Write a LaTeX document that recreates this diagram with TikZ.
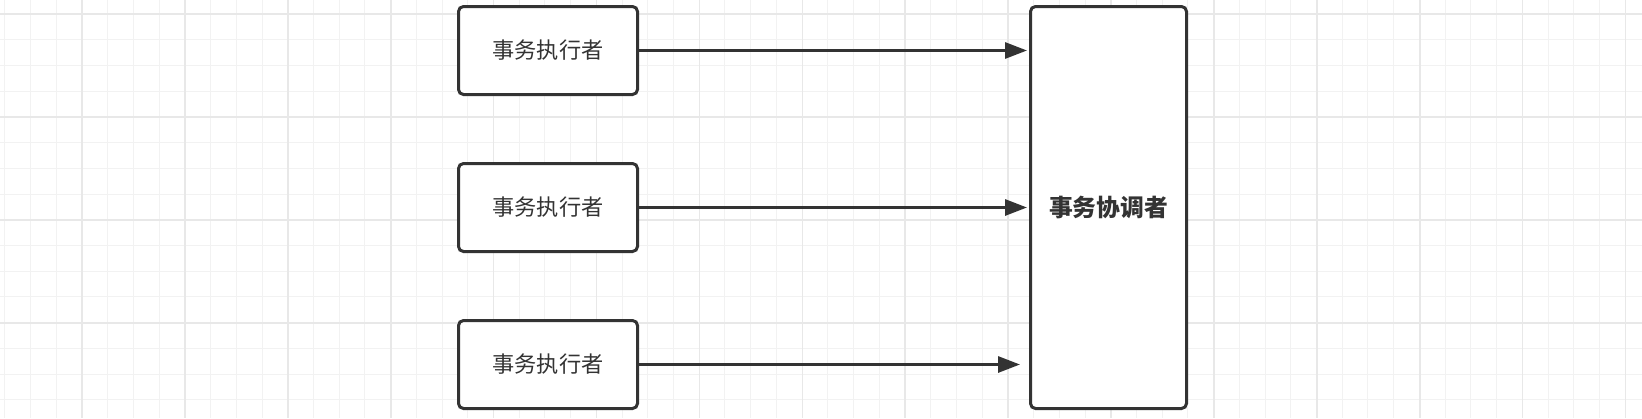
\documentclass[tikz,border=0pt]{standalone}
\usepackage{fontspec}
\setmainfont{Noto Sans CJK SC}
\usetikzlibrary{arrows.meta}
\definecolor{ink}{HTML}{333333}
\definecolor{gridminor}{HTML}{F2F2F2}
\definecolor{gridmajor}{HTML}{E8E8E8}
\begin{document}
\begin{tikzpicture}[x=1pt,y=-1pt,
  exec/.style={draw=ink, line width=3pt, rounded corners=5pt, fill=white, inner sep=0pt,
    text=ink, minimum width=179pt, minimum height=88pt, font=\fontsize{22.2}{26}\selectfont},
  coord/.style={draw=ink, line width=3pt, rounded corners=5pt, fill=white, inner sep=0pt,
    text=ink, minimum width=156pt, minimum height=402pt, font=\fontsize{23.8}{28}\selectfont\bfseries},
  arr/.style={draw=ink, line width=3pt, -{Triangle[length=22pt,width=16pt]}},
  minorline/.style={draw=gridminor, line width=1pt},
  majorline/.style={draw=gridmajor, line width=1.6pt}]
\useasboundingbox (0,0) rectangle (1642,418);
\fill[white] (0,0) rectangle (1642,418);
% grid
\foreach \i in {0,...,64} {
  \pgfmathsetmacro\xx{4.8+25.72*\i}
  \draw[minorline] (\xx,0) -- (\xx,418);
}
\foreach \i in {0,...,16} {
  \pgfmathsetmacro\yy{-11.7+25.72*\i}
  \draw[minorline] (0,\yy) -- (1642,\yy);
}
\foreach \i in {0,...,16} {
  \pgfmathsetmacro\xx{82+102.9*\i}
  \draw[majorline] (\xx,0) -- (\xx,418);
}
\foreach \i in {0,...,4} {
  \pgfmathsetmacro\yy{14+102.9*\i}
  \draw[majorline] (0,\yy) -- (1642,\yy);
}
% nodes
\node[exec] (e1) at (548,50.5) {事务执行者};
\node[exec] (e2) at (548,207.5) {事务执行者};
\node[exec] (e3) at (548,364.5) {事务执行者};
\node[coord] (c) at (1108.5,207.5) {事务协调者};
% arrows
\draw[arr, shorten >=2pt] (e1.east) -- (e1.east -| c.west);
\draw[arr, shorten >=2pt] (e2.east) -- (e2.east -| c.west);
\draw[arr, shorten >=9pt] (e3.east) -- (e3.east -| c.west);
\end{tikzpicture}
\end{document}
